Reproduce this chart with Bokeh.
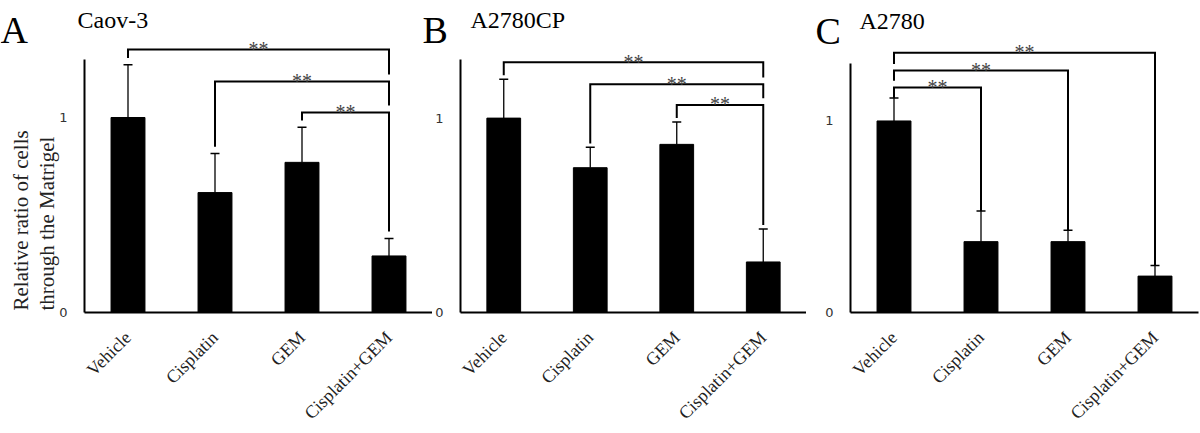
import math
from bokeh.plotting import figure
from bokeh.models import Range1d, FactorRange, FixedTicker, ColumnDataSource
from bokeh.layouts import row, column
from bokeh.embed import file_html
from bokeh.resources import INLINE
from bokeh.core.properties import value

# ---------------- data ----------------
categories = ["Vehicle", "Cisplatin", "GEM", "Cisplatin+GEM"]

caov3_mean = [1.00, 0.615, 0.77, 0.29]
caov3_err = [0.27, 0.20, 0.18, 0.09]

a2780cp_mean = [1.00, 0.745, 0.865, 0.26]
a2780cp_err = [0.20, 0.105, 0.115, 0.17]

a2780_mean = [1.00, 0.37, 0.37, 0.19]
a2780_err = [0.12, 0.16, 0.06, 0.055]

# significance brackets: (left group, right group, bracket height)
caov3_brackets = [("Vehicle", "Cisplatin+GEM", 1.349),
                  ("Cisplatin", "Cisplatin+GEM", 1.185),
                  ("GEM", "Cisplatin+GEM", 1.026)]
a2780cp_brackets = [("Vehicle", "Cisplatin+GEM", 1.287),
                    ("Cisplatin", "Cisplatin+GEM", 1.174),
                    ("GEM", "Cisplatin+GEM", 1.067)]
a2780_brackets = [("Vehicle", "Cisplatin+GEM", 1.356),
                  ("Vehicle", "GEM", 1.263),
                  ("Vehicle", "Cisplatin", 1.175)]
sig_label = "**"

panel_letters = ["A", "B", "C"]
panel_titles = ["Caov-3", "A2780CP", "A2780"]
y_label_lines = ["Relative ratio of cells", "through the Matrigel"]
y_ticks = [0, 1]

SERIF = "Liberation Serif"
TICKFONT = "DejaVu Sans"
H = 433


def make_panel(mean, err, brackets, width, border_left, frame_h, ymax,
               err_gap, border_right=0):
    p = figure(width=width, height=H, output_backend="svg",
               toolbar_location=None,
               x_range=FactorRange(*categories, range_padding=0),
               y_range=Range1d(0, ymax),
               min_border_left=border_left, min_border_right=border_right,
               min_border_top=0, min_border_bottom=H - frame_h)
    p.outline_line_color = None
    p.grid.grid_line_color = None
    p.background_fill_color = "white"

    tops = [m + e for m, e in zip(mean, err)]
    src = ColumnDataSource(dict(x=categories, top=mean, etop=tops))
    p.vbar(x="x", top="top", width=0.39, source=src, fill_color="black",
           line_color="black")
    p.segment(x0="x", y0="top", x1="x", y1="etop", source=src,
              line_color="black", line_width=1.3)
    p.scatter(x="x", y="etop", source=src, marker="dash", size=9,
              line_color="black", line_width=1.5)

    # significance brackets
    idx = {c: i for i, c in enumerate(categories)}
    xs, ys, sx, sy = [], [], [], []
    for (l, r, h) in brackets:
        ends = []
        for c in (l, r):
            obst = tops[idx[c]] + err_gap
            for (l2, r2, h2) in brackets:
                if h2 < h and c in (l2, r2):
                    obst = max(obst, h2 + 0.035)
            ends.append(obst)
        xl, xr = idx[l] + 0.5, idx[r] + 0.5
        xs.append([xl, xl, xr, xr])
        ys.append([ends[0], h, h, ends[1]])
        sx.append((xl + xr) / 2)
        sy.append(h + 0.004)
    p.multi_line(xs=xs, ys=ys, line_color="black", line_width=2,
                 line_join="miter")
    p.text(x=sx, y=sy, text=[sig_label] * len(sx), text_align="center",
           text_baseline="alphabetic", text_font=value(SERIF),
           text_font_size="20px", text_color="#444444")

    # axes
    p.yaxis.ticker = FixedTicker(ticks=y_ticks)
    p.yaxis.bounds = (0, 1.3)
    p.yaxis.major_tick_out = 0
    p.yaxis.major_tick_in = 0
    p.yaxis.minor_tick_line_color = None
    p.yaxis.major_label_standoff = 17
    p.yaxis.major_label_text_font = TICKFONT
    p.yaxis.major_label_text_font_size = "13px"
    p.yaxis.major_label_text_color = "#333333"
    p.yaxis.axis_line_width = 2
    p.yaxis.axis_line_color = "black"

    p.xaxis.major_tick_line_color = None
    p.xaxis.minor_tick_line_color = None
    p.xaxis.axis_line_width = 2
    p.xaxis.axis_line_color = "black"
    p.xaxis.major_label_orientation = math.pi / 4
    p.xaxis.major_label_text_font = SERIF
    p.xaxis.major_label_text_font_size = "18px"
    p.xaxis.major_label_text_color = "#222222"
    p.xaxis.major_label_standoff = 16
    return p


pa = make_panel(caov3_mean, caov3_err, caov3_brackets,
                432, 84, 312, 312 / 195, 0.035)
pb = make_panel(a2780cp_mean, a2780cp_err, a2780cp_brackets,
                374, 26, 313, 313 / 195, 0.02)
pc = make_panel(a2780_mean, a2780_err, a2780_brackets,
                394, 44, 316, 316 / 194, 0.0, border_right=2)

# transparent overlay carrying panel letters, titles and the y label
ov = figure(width=1200, height=H, output_backend="svg", toolbar_location=None,
            x_range=Range1d(0, 1200), y_range=Range1d(0, H),
            x_axis_type=None, y_axis_type=None, min_border=0)
ov.outline_line_color = None
ov.background_fill_color = None
ov.border_fill_color = None
ov.grid.grid_line_color = None
ov.styles = {"position": "absolute", "left": "0px", "top": "0px"}

ov.text(x=[0, 422, 815], y=[H - 29, H - 29, H - 30], text=panel_letters,
        text_font=value(SERIF), text_font_size="38px", text_color="black",
        text_baseline="alphabetic", text_align="left")
ov.text(x=[77, 470, 859], y=[H - 19, H - 19, H - 20], text=panel_titles,
        text_font=value(SERIF), text_font_size="24px", text_color="black",
        text_baseline="alphabetic", text_align="left")
ov.text(x=[20, 46], y=[H - 310, H - 310], text=y_label_lines,
        angle=math.pi / 2, text_font=value(SERIF), text_font_size="21px",
        text_color="#222222", text_baseline="alphabetic", text_align="left")

main = row(pa, pb, pc, spacing=0)
layout = column(main, ov, spacing=0)
open("out.html", "w").write(file_html(layout, INLINE))
